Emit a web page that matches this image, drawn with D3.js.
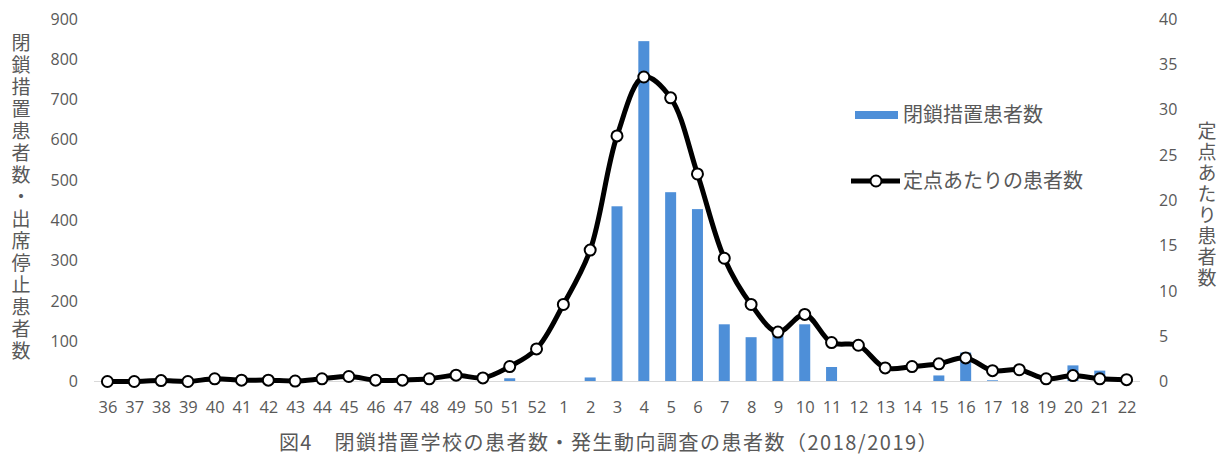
<!DOCTYPE html>
<html>
<head>
<meta charset="utf-8">
<script src="https://cdn.jsdelivr.net/npm/d3@7"></script>
<style>
  body { margin: 0; background: #ffffff; }
  text { fill: #595959; }
</style>
</head>
<body>
<div id="chart"></div>
<script>
// weeks 36..52 (2018), 1..22 (2019)
var weeks = ["36","37","38","39","40","41","42","43","44","45","46","47","48","49","50","51","52",
             "1","2","3","4","5","6","7","8","9","10","11","12","13","14","15","16","17","18","19","20","21","22"];
var closurePatients = [0,0,0,0,0,0,0,0,0,0,0,0,0,0,0,8,0,
                       0,10,435,845,470,428,142,110,115,142,36,0,0,0,15,72,3,0,0,40,27,0];
var perSentinel = [0,0,0.1,0,0.3,0.15,0.15,0.05,0.3,0.55,0.15,0.15,0.3,0.7,0.4,1.65,3.6,
                   8.5,14.5,27.1,33.6,31.3,22.9,13.6,8.5,5.45,7.4,4.3,4.0,1.5,1.65,1.95,2.6,1.2,1.3,0.3,0.65,0.3,0.2];
var leftTicks = [0,100,200,300,400,500,600,700,800,900];
var rightTicks = [0,5,10,15,20,25,30,35,40];

var W = 1225, H = 457;
var plot = { left: 94, right: 1140, top: 19, bottom: 381.5 };
var barColor = "#4e8fd8";
var numFont = "'Open Sans', sans-serif";
var jpFont = "'Noto Sans CJK JP', sans-serif";

var svg = d3.select("#chart").append("svg")
    .attr("width", W)
    .attr("height", H);

var xc = d3.scalePoint().domain(weeks).range([plot.left, plot.right]).padding(0.5);
var yL = d3.scaleLinear().domain([0, 900]).range([plot.bottom, plot.top]);
var yR = d3.scaleLinear().domain([0, 40]).range([plot.bottom, plot.top]);

// bars
svg.selectAll(".bar")
    .data(weeks.map(function (w, i) { return { week: w, v: closurePatients[i] }; }))
    .enter()
    .append("rect")
    .attr("class", "bar")
    .attr("x", function (d) { return xc(d.week) - 5.5; })
    .attr("width", 11)
    .attr("y", function (d) { return yL(d.v); })
    .attr("height", function (d) { return plot.bottom - yL(d.v); })
    .attr("fill", barColor);

// baseline
svg.append("line")
    .attr("x1", plot.left).attr("x2", plot.right)
    .attr("y1", plot.bottom).attr("y2", plot.bottom)
    .attr("stroke", "#d9d9d9").attr("stroke-width", 1);

// left axis
var axL = svg.append("g")
    .attr("transform", "translate(78,0)")
    .call(d3.axisLeft(yL).tickValues(leftTicks).tickSize(0).tickPadding(0));
axL.select(".domain").remove();
axL.selectAll("text").style("font-family", numFont).style("font-size", "16px").attr("fill", "#595959");

// right axis
var axR = svg.append("g")
    .attr("transform", "translate(1159,0)")
    .call(d3.axisRight(yR).tickValues(rightTicks).tickSize(0).tickPadding(0));
axR.select(".domain").remove();
axR.selectAll("text").style("font-family", numFont).style("font-size", "16px").attr("fill", "#595959");

// x labels
var axB = svg.append("g")
    .attr("transform", "translate(0," + (plot.bottom + 20) + ")")
    .call(d3.axisBottom(xc).tickSize(0).tickPadding(0));
axB.select(".domain").remove();
axB.selectAll("text").style("font-family", numFont).style("font-size", "16.5px").attr("fill", "#595959");

// line
var pts = weeks.map(function (w, i) { return { week: w, v: perSentinel[i] }; });
var line = d3.line()
    .x(function (d) { return xc(d.week); })
    .y(function (d) { return yR(d.v); })
    .curve(d3.curveCatmullRom.alpha(0.5));
svg.append("path")
    .datum(pts)
    .attr("d", line)
    .attr("fill", "none")
    .attr("stroke", "#000")
    .attr("stroke-width", 5)
    .attr("stroke-linejoin", "round");

svg.selectAll(".pt")
    .data(pts)
    .enter()
    .append("circle")
    .attr("class", "pt")
    .attr("cx", function (d) { return xc(d.week); })
    .attr("cy", function (d) { return yR(d.v); })
    .attr("r", 5.5)
    .attr("fill", "#fff")
    .attr("stroke", "#000")
    .attr("stroke-width", 2);

// legend
svg.append("rect")
    .attr("x", 855).attr("y", 111).attr("width", 43).attr("height", 8)
    .attr("fill", barColor);
svg.append("text")
    .attr("x", 903).attr("y", 122)
    .style("font-family", jpFont).style("font-size", "20px")
    .text("閉鎖措置患者数");

svg.append("line")
    .attr("x1", 851).attr("x2", 900).attr("y1", 181).attr("y2", 181)
    .attr("stroke", "#000").attr("stroke-width", 5);
svg.append("circle")
    .attr("cx", 876).attr("cy", 181).attr("r", 5.5)
    .attr("fill", "#fff").attr("stroke", "#000").attr("stroke-width", 2);
svg.append("text")
    .attr("x", 903).attr("y", 188)
    .style("font-family", jpFont).style("font-size", "20px")
    .text("定点あたりの患者数");

// axis titles (vertical)
svg.append("text")
    .attr("x", 21).attr("y", 33)
    .style("font-family", jpFont).style("font-size", "19px")
    .style("writing-mode", "vertical-rl")
    .style("text-orientation", "upright")
    .style("letter-spacing", "3px")
    .text("閉鎖措置患者数・出席停止患者数");

svg.append("text")
    .attr("x", 1207).attr("y", 121)
    .style("font-family", jpFont).style("font-size", "19px")
    .style("writing-mode", "vertical-rl")
    .style("text-orientation", "upright")
    .style("letter-spacing", "2px")
    .text("定点あたり患者数");

// caption
svg.append("text")
    .attr("x", 609).attr("y", 450)
    .attr("text-anchor", "middle")
    .style("font-family", jpFont).style("font-size", "20px")
    .style("letter-spacing", "1.5px")
    .text("図4　閉鎖措置学校の患者数・発生動向調査の患者数（2018/2019）");
</script>
</body>
</html>
